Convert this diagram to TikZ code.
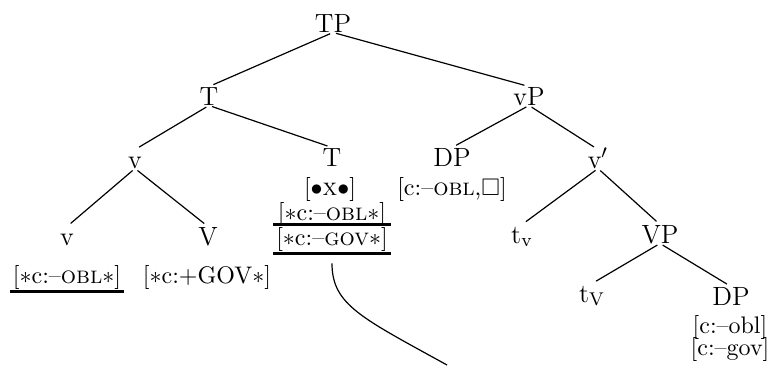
\documentclass[tikz,border=0pt]{standalone}
\usepackage{amsmath,amssymb}
\usepackage{xcolor}
\usepackage{tikz}
\usetikzlibrary{positioning,calc}

\begin{document}
\begin{tikzpicture}[
  x=0.417pt,y=-0.417pt,
  lbl/.style={anchor=base,inner sep=0pt,text height=7.5pt,text depth=0pt,
              font=\fontsize{11}{13}\selectfont},
  feat/.style={anchor=base,inner sep=1pt,font=\normalsize},
  edge/.style={draw=black,line width=0.5pt,shorten <=1.3pt,shorten >=2pt},
  bar/.style={draw=black,line width=1.3pt},
  link/.style={draw=black,line width=0.5pt}
]
\useasboundingbox (0,0) rectangle (773,365);
% tree labels
\node[lbl] (TP) at (333,32) {TP};
\node[lbl] (T1) at (209,105) {T};
\node[lbl] (vP) at (529,105) {vP};
\node[lbl] (v1) at (135,168) {v};
\node[lbl] (T2) at (332,166) {T};
\node[lbl] (DP1) at (452,166) {DP};
\node[lbl] (vbar) at (598,168) {v$'$};
\node[lbl] (v2) at (67,245) {v};
\node[lbl] (V) at (208,245) {V};
\node[lbl] (tv) at (522,243) {t$_{\text{v}}$};
\node[lbl] (VP) at (660,243) {VP};
\node[lbl] (tV) at (592,302) {t$_{\text{V}}$};
\node[lbl] (DP2) at (731,305) {DP};
% features
\node[feat] (fx) at (330,195) {$[\bullet\text{\textsc{x}}\bullet]$};
\node[feat] (fo) at (332,220) {[$\ast$c:--\textsc{obl}$\ast$]};
\node[feat] (fg) at (332,245) {[$\ast$c:--\textsc{gov}$\ast$]};
\node[feat] (fdp) at (452,195) {[c:--\textsc{obl},$\Box$]};
\node[feat] (fv) at (67,283) {[$\ast$c:--\textsc{obl}$\ast$]};
\node[feat] (fV) at (207,283) {[$\ast$c:+GOV$\ast$]};
\node[feat] (fobl) at (730,333) {[c:--obl]};
\node[feat] (fgov) at (730,355) {[c:--gov]};
\coordinate (tail) at (447,365);

\draw[edge] (TP.south) -- (T1.north);
\draw[edge] (TP.south) -- (vP.north);
\draw[edge] (T1.south) -- (v1.north);
\draw[edge] (T1.south) -- (T2.north);
\draw[edge] (vP.south) -- (DP1.north);
\draw[edge] (vP.south) -- (vbar.north);
\draw[edge] (v1.south) -- (v2.north);
\draw[edge] (v1.south) -- (V.north);
\draw[edge] (vbar.south) -- (tv.north);
\draw[edge] (vbar.south) -- (VP.north);
\draw[edge] (VP.south) -- (tV.north);
\draw[edge] (VP.south) -- (DP2.north);

\draw[bar] (fg.north west) -- (fg.north east);
\draw[bar] (fg.south west) -- (fg.south east);
\draw[bar] (fv.south west) -- (fv.south east);

\draw[link,shorten <=4pt] (fg.south) .. controls (332,305) and (362,318) .. (tail);
\end{tikzpicture}
\end{document}
